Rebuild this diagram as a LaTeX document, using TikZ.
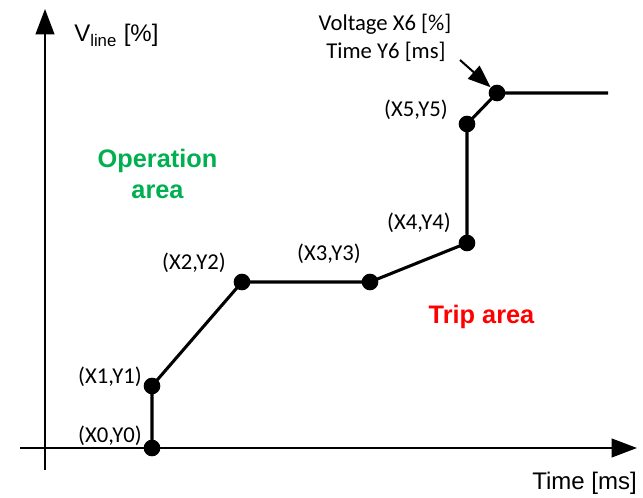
\documentclass[tikz,border=0pt]{standalone}
\usepackage{fontspec}
\setmainfont{Liberation Sans}
\newfontfamily\ptfont{Carlito}
\usepackage{xcolor}
\usetikzlibrary{arrows.meta,positioning}

\definecolor{opgreen}{RGB}{0,176,80}
\tikzset{
	axis/.style={line width=1.5pt, -{Triangle[length=19pt,width=14pt]}},
	curve/.style={line width=2.3pt},
	dot/.style={circle, fill=black, inner sep=0pt, minimum size=12.5pt},
	ptlabel/.style={font=\ptfont\fontsize{17}{20}\selectfont, anchor=base, inner sep=0pt},
	arealabel/.style={font=\fontsize{19}{23}\selectfont\bfseries, align=center, inner sep=0pt}
}

\begin{document}
\begin{tikzpicture}[x=0.75pt,y=-0.75pt]
		\useasboundingbox (0,0) rectangle (643,498);
		% axes
		\coordinate (ybot) at (45,470);
		\coordinate (ytop) at (45,9);
		\coordinate (xleft) at (20,448);
		\coordinate (xright) at (637,448);
		\draw[axis] (ybot) -- (ytop);
		\draw[axis] (xleft) -- (xright);
		\node[anchor=base west, inner sep=0pt, font=\fontsize{18}{22}\selectfont] (vlabel) at (74,42) {V\textsubscript{line} [\%]};
		\node[anchor=base east, inner sep=0pt, font=\fontsize{18}{22}\selectfont] (tlabel) at (637,490) {Time [ms]};

		% characteristic points
		\node[dot] (p0) at (152,448) {};
		\node[dot] (p1) at (152,386) {};
		\node[dot] (p2) at (242,282) {};
		\node[dot] (p3) at (370,282) {};
		\node[dot] (p4) at (467,243) {};
		\node[dot] (p5) at (467,124) {};
		\node[dot] (p6) at (497,93) {};
		\coordinate (pend) at (608,93);

		\draw[curve] (p0.center) -- (p1.center) -- (p2.center) -- (p3.center)
			-- (p4.center) -- (p5.center) -- (p6.center) -- (pend);

		\node[ptlabel] (l0) at (110,443) {(X0,Y0)};
		\node[ptlabel] (l1) at (110,384) {(X1,Y1)};
		\node[ptlabel] (l2) at (194,270) {(X2,Y2)};
		\node[ptlabel] (l3) at (329,261) {(X3,Y3)};
		\node[ptlabel] (l4) at (419,230) {(X4,Y4)};
		\node[ptlabel] (l5) at (416,117) {(X5,Y5)};
		\node[ptlabel] (l6a) at (385,31) {Voltage X6 [\%]};
		\node[ptlabel] (l6b) at (386,59) {Time Y6 [ms]};

		\coordinate (astart) at (460,60);
		\draw[line width=1.5pt, -{Triangle[length=17pt,width=13pt]}] (astart) -- (p6);

		% areas
		\node[arealabel, text=opgreen] (oparea) at (157.5,174) {Operation\\area};
		\node[arealabel, text=red, anchor=base] (triparea) at (481.5,324) {Trip area};
	\end{tikzpicture}
\end{document}
